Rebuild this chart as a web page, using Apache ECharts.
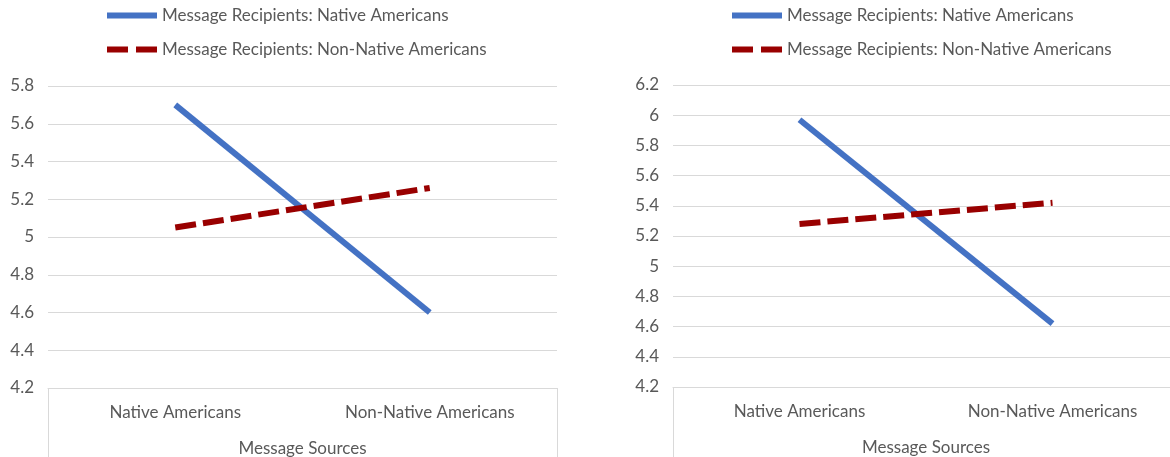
<!DOCTYPE html>
<html>
<head>
<meta charset="utf-8">
<script src="https://cdn.jsdelivr.net/npm/echarts@6/dist/echarts.min.js"></script>
<style>
  html, body { margin: 0; padding: 0; background: #fff; }
  #chart { width: 1170px; height: 457px; }
</style>
</head>
<body>
<div id="chart"></div>
<script>
// Message sources on the category axis
const categories = ['Native Americans', 'Non-Native Americans'];
const seriesNames = ['Message Recipients: Native Americans', 'Message Recipients: Non-Native Americans'];

// Panel 1 means
const leftNative = [5.70, 4.60];
const leftNonNative = [5.05, 5.26];
// Panel 2 means
const rightNative = [5.97, 4.62];
const rightNonNative = [5.28, 5.42];

// Value axis ranges [min, max, step]
const leftRange = [4.2, 5.8, 0.2];
const rightRange = [4.2, 6.2, 0.2];

const FONT = 'Lato';
const FS = 17;
const TEXT = '#595959';
const GRID = '#d9d9d9';
const BLUE = '#4472C4';
const RED = '#990000';

const dashIcon = 'path://M0,0H21V6H0Z M29,0H50V6H29Z';

function legend(left) {
  return {
    left: left, top: 2, orient: 'vertical',
    itemWidth: 50, itemHeight: 6, itemGap: 17,
    textStyle: { color: TEXT, fontFamily: FONT, fontSize: FS },
    data: [
      { name: seriesNames[0], icon: 'rect' },
      { name: seriesNames[1], icon: dashIcon }
    ],
    selectedMode: false
  };
}

function xAxis(gridIndex) {
  return {
    type: 'category', gridIndex: gridIndex, data: categories,
    boundaryGap: true,
    axisLine: { show: true, lineStyle: { color: GRID, width: 1 } },
    axisTick: { show: true, length: 72, interval: (i) => i === 0, lineStyle: { color: GRID, width: 1 } },
    axisLabel: { color: TEXT, fontFamily: FONT, fontSize: FS, margin: 16 },
    name: 'Message Sources', nameLocation: 'middle', nameGap: 52,
    nameTextStyle: { color: TEXT, fontFamily: FONT, fontSize: FS }
  };
}

function yAxis(gridIndex, range) {
  return {
    type: 'value', gridIndex: gridIndex,
    min: range[0], max: range[1], interval: range[2],
    axisLine: { show: false }, axisTick: { show: false },
    axisLabel: { color: TEXT, fontFamily: FONT, fontSize: FS, margin: 14,
      formatter: (v) => String(Math.round(v * 10) / 10) },
    splitLine: { lineStyle: { color: GRID, width: 1 } }
  };
}

function line(name, data, idx, color, dashed) {
  return {
    type: 'line', name: name, data: data,
    xAxisIndex: idx, yAxisIndex: idx,
    symbol: 'none', color: color, silent: true, animation: false,
    lineStyle: { color: color, width: 6, type: dashed ? [21, 7] : 'solid', cap: 'butt' },
    z: dashed ? 3 : 2
  };
}

const chart = echarts.init(document.getElementById('chart'), null, { renderer: 'canvas' });
chart.setOption({
  backgroundColor: '#fff',
  animation: false,
  legend: [legend(102), legend(727)],
  grid: [
    { left: 48, right: 613, top: 86, bottom: 69, outerBoundsMode: 'none', containLabel: false },
    { left: 673, right: -9, top: 85, bottom: 70, outerBoundsMode: 'none', containLabel: false }
  ],
  xAxis: [xAxis(0), xAxis(1)],
  yAxis: [yAxis(0, leftRange), yAxis(1, rightRange)],
  series: [
    line(seriesNames[0], leftNative, 0, BLUE, false),
    line(seriesNames[1], leftNonNative, 0, RED, true),
    line(seriesNames[0], rightNative, 1, BLUE, false),
    line(seriesNames[1], rightNonNative, 1, RED, true)
  ]
});
</script>
</body>
</html>
